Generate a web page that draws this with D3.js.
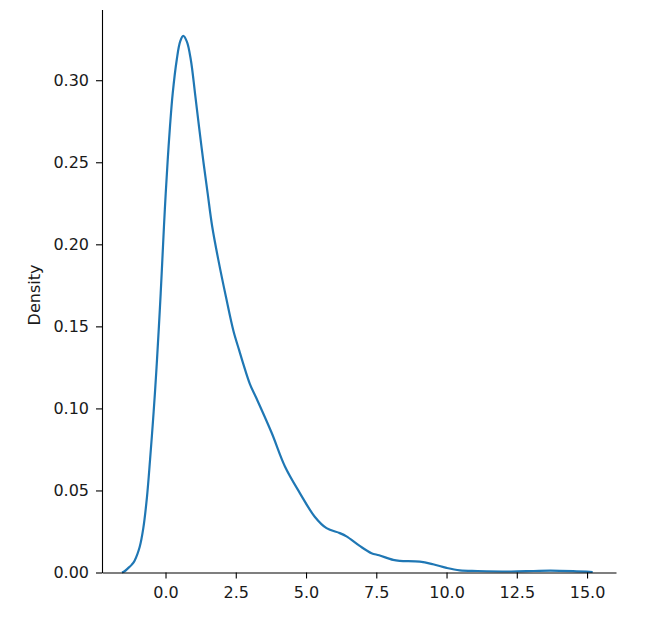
<!DOCTYPE html>
<html>
<head>
<meta charset="utf-8">
<script src="https://cdn.jsdelivr.net/npm/d3@7"></script>
<style>
  html, body { margin: 0; padding: 0; background: #fff; }
  svg { display: block; font-family: "DejaVu Sans", sans-serif; }
</style>
</head>
<body>
<div id="chart"></div>
<script>
// Data
const xValues = [-1.55, -1.47, -1.32, -1.2, -1.1, -0.92, -0.79, -0.66, -0.55, -0.46, -0.378, -0.303, -0.235, -0.172, -0.113, -0.055, 0.007, 0.078, 0.16, 0.256, 0.40, 0.52, 0.63, 0.76, 0.90, 1.05, 1.19, 1.34, 1.50, 1.66, 1.88, 2.15, 2.42, 2.62, 2.77, 3.0, 3.24, 3.78, 4.25, 4.78, 5.31, 5.73, 6.2, 6.44, 6.91, 7.33, 7.6, 8.1, 8.34, 9.05, 9.52, 10.0, 10.47, 11.1, 12.3, 13.1, 13.7, 14.5, 15.2];
const densityValues = [0.0, 0.0006, 0.0028, 0.0048, 0.0072, 0.0155, 0.027, 0.046, 0.0687, 0.089, 0.109, 0.1296, 0.150, 0.170, 0.1905, 0.211, 0.231, 0.2514, 0.272, 0.292, 0.3125, 0.3235, 0.327, 0.3235, 0.3125, 0.292, 0.272, 0.2514, 0.231, 0.211, 0.1905, 0.168, 0.147, 0.1355, 0.127, 0.115, 0.106, 0.085, 0.0646, 0.0484, 0.034, 0.027, 0.024, 0.022, 0.0162, 0.0118, 0.0105, 0.0077, 0.0071, 0.0066, 0.005, 0.0028, 0.0013, 0.0009, 0.0006, 0.0009, 0.0011, 0.0008, 0.0003];
const xTicks = [0, 2.5, 5, 7.5, 10, 12.5, 15];
const yTicks = [0, 0.05, 0.10, 0.15, 0.20, 0.25, 0.30];
const yLabel = "Density";

const W = 659, H = 639;
const mLeft = 102, mRight = 616, mTop = 9.5, mBottom = 572.5;

const svg = d3.select("#chart").append("svg").attr("width", W).attr("height", H);

const x = d3.scaleLinear().domain([-2.26, 16.03]).range([mLeft, mRight]);
const y = d3.scaleLinear().domain([0, 0.3431]).range([mBottom, mTop]);

const pts = xValues.map((v, i) => [v, densityValues[i]]);

svg.append("path")
  .datum(pts)
  .attr("fill", "none")
  .attr("stroke", "#1f77b4")
  .attr("stroke-width", 2.2)
  .attr("stroke-linejoin", "round")
  .attr("d", d3.line().x(d => x(d[0])).y(d => y(d[1])).curve(d3.curveCatmullRom.alpha(0.5)));

const xAxis = svg.append("g")
  .attr("transform", `translate(0,${mBottom})`)
  .call(d3.axisBottom(x).tickValues(xTicks).tickFormat(d3.format(".1f")).tickSize(6).tickPadding(8).tickSizeOuter(0));
const yAxis = svg.append("g")
  .attr("transform", `translate(${mLeft},0)`)
  .call(d3.axisLeft(y).tickValues(yTicks).tickFormat(d3.format(".2f")).tickSize(6).tickPadding(7).tickSizeOuter(0));

[xAxis, yAxis].forEach(g => {
  g.select(".domain").attr("stroke", "#000").attr("stroke-width", 1.1);
  g.selectAll(".tick line").attr("stroke", "#000").attr("stroke-width", 1.1);
  g.selectAll(".tick text").attr("fill", "#1a1a1a").style("font-size", "16px").style("font-family", "DejaVu Sans");
});

svg.append("text")
  .attr("transform", `translate(40,295) rotate(-90)`)
  .attr("text-anchor", "middle")
  .attr("fill", "#1a1a1a")
  .style("font-size", "16px")
  .style("font-family", "DejaVu Sans")
  .text(yLabel);
</script>
</body>
</html>
